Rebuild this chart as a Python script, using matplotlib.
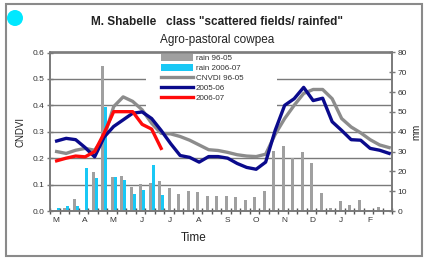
import numpy as np
import matplotlib
matplotlib.use('Agg')
import matplotlib.pyplot as plt
from matplotlib.patches import Patch, Rectangle, Ellipse
from matplotlib.lines import Line2D

plt.rcParams['font.family'] = ['Liberation Sans', 'DejaVu Sans']

# dekads from March to February
months = ['M', 'A', 'M', 'J', 'J', 'A', 'S', 'O', 'N', 'D', 'J', 'F']

# rainfall (mm), right axis
rain_9605 = [0.5, 1.5, 6, 0, 19.5, 73, 17, 17.5, 12.3, 13.5, 14, 15,
             11.8, 8.5, 10.2, 9.4, 7.8, 7.7, 7.8, 7.0, 5.6, 7.0, 10.3, 30.5,
             32.8, 26.6, 30.0, 24.4, 8.9, 1.3, 5.0, 3.0, 5.5, 0.5, 2.2, 0.3]
rain_0607 = [1.3, 2.5, 2.7, 21.5, 16.8, 52.5, 17.3, 15.8, 8.8, 10.8, 23.4, 8.3]

# CNDVI, left axis
cndvi_9605 = [0.225, 0.218, 0.23, 0.237, 0.23, 0.28, 0.395, 0.432, 0.415, 0.383, 0.332, 0.294,
              0.292, 0.282, 0.268, 0.25, 0.232, 0.229, 0.222, 0.213, 0.208, 0.206, 0.215, 0.29,
              0.35, 0.40, 0.445, 0.46, 0.46, 0.425, 0.35, 0.318, 0.296, 0.27, 0.25, 0.24]
cndvi_0506 = [0.265, 0.275, 0.27, 0.24, 0.205, 0.28, 0.32, 0.345, 0.37, 0.375, 0.35, 0.305,
              0.255, 0.21, 0.203, 0.185, 0.206, 0.206, 0.2, 0.18, 0.165, 0.158, 0.185, 0.305,
              0.40, 0.425, 0.468, 0.418, 0.427, 0.338, 0.305, 0.27, 0.268, 0.237, 0.23, 0.218]
cndvi_0607 = [0.19, 0.2, 0.208, 0.205, 0.225, 0.295, 0.376, 0.376, 0.376, 0.328, 0.31, 0.237]

fig = plt.figure(figsize=(4.26, 2.59), dpi=100)
ax = fig.add_axes([50/426, 1-211/259, 342/426, 158.5/259])
ax2 = ax.twinx()
ax.set_zorder(ax2.get_zorder() + 1)
ax.patch.set_visible(False)

k = np.arange(len(rain_9605))
k2 = np.arange(len(rain_0607))
grey_bar = '#a0a0a0'
cyan = '#19c8f5'
lw = 2.4

# grid behind the bars
for i in range(1, 6):
    ax2.axhline(i * 80 / 6, color='#7a7a7a', lw=1.0, zorder=0.5)
ax2.add_patch(Rectangle((0.281, 0.65), 0.383, 0.35, transform=ax2.transAxes,
                        facecolor='white', edgecolor='none', zorder=0.8))
ax2.bar(k + 0.05, rain_9605, width=0.3, color=grey_bar, zorder=2)
ax2.bar(k2 + 0.37, rain_0607, width=0.34, color=cyan, zorder=2)

ax.plot(k + 0.2, cndvi_9605, color='#8c8c8c', lw=lw, zorder=3)
ax.plot(k + 0.2, cndvi_0506, color='#0a0a8c', lw=lw, zorder=4)
ax.plot(k2 + 0.2, cndvi_0607, color='#ff0a0a', lw=lw, zorder=5)

ax.set_xlim(0.0, 35.45)
ax.set_ylim(0, 0.6)
ax2.set_ylim(0, 80)
ax.set_yticks(np.arange(0, 0.61, 0.1))
ax.set_yticklabels([f'{v:.1f}' for v in np.arange(0, 0.61, 0.1)])
ax2.set_yticks(np.arange(0, 81, 10))
ax.set_xticks(np.arange(0, 36, 3) + 0.15)
ax.set_xticklabels(months)
ax.set_xticks(np.arange(-0.5, 36, 1), minor=True)

for a in (ax, ax2):
    for s in a.spines.values():
        s.set_color('#7a7a7a')
        s.set_linewidth(1.2)
ax.tick_params(axis='y', direction='inout', length=4, width=1, color='#7a7a7a',
               labelsize=6, labelcolor='#333333', pad=2)
ax2.tick_params(axis='y', direction='inout', length=4, width=1, color='#7a7a7a',
                labelsize=6, labelcolor='#333333', pad=2)
ax.tick_params(axis='x', which='major', length=0, labelsize=6, labelcolor='#333333', pad=4)
ax.tick_params(axis='x', which='minor', direction='inout', length=4, width=1, color='#555555')

ax.set_ylabel('CNDVI', fontsize=7, color='#222222', labelpad=5)
ax2.set_ylabel('mm', fontsize=7, color='#222222', labelpad=3)
ax.set_xlabel('Time', fontsize=8.5, color='#222222', labelpad=1)
ax.xaxis.set_label_coords(0.42, -0.13)

handles = [Patch(facecolor=grey_bar, edgecolor='none'),
           Patch(facecolor=cyan, edgecolor='none'),
           Line2D([], [], color='#8c8c8c', lw=lw),
           Line2D([], [], color='#0a0a8c', lw=lw),
           Line2D([], [], color='#ff0a0a', lw=lw)]
labels = ['rain 96-05', 'rain 2006-07', 'CNVDI 96-05', '2005-06', '2006-07']
ax.legend(handles, labels, loc='upper left', bbox_to_anchor=(0.32, 1.0), frameon=False,
          fontsize=5.8, handlelength=4.0, handleheight=1.0, handletextpad=0.3,
          labelspacing=0.2, borderpad=0.1, borderaxespad=0.1, labelcolor='#333333')

fig.text(0.51, 1-22/259, 'M. Shabelle   class "scattered fields/ rainfed"', ha='center',
         va='center', fontsize=8.5, fontweight='bold', color='#222222')
fig.text(0.51, 1-40/259, 'Agro-pastoral cowpea', ha='center', va='center', fontsize=8.5,
         color='#222222')

fig.add_artist(Rectangle((6/426, 3/259), 416/426, 252/259, transform=fig.transFigure,
                         facecolor='none', edgecolor='#8a8a8a', lw=1.5))
fig.add_artist(Ellipse((15/426, 1-18/259), 16/426, 16/259, transform=fig.transFigure,
                       facecolor='#00e8ff', edgecolor='none'))

fig.savefig('out.png', dpi=100)
